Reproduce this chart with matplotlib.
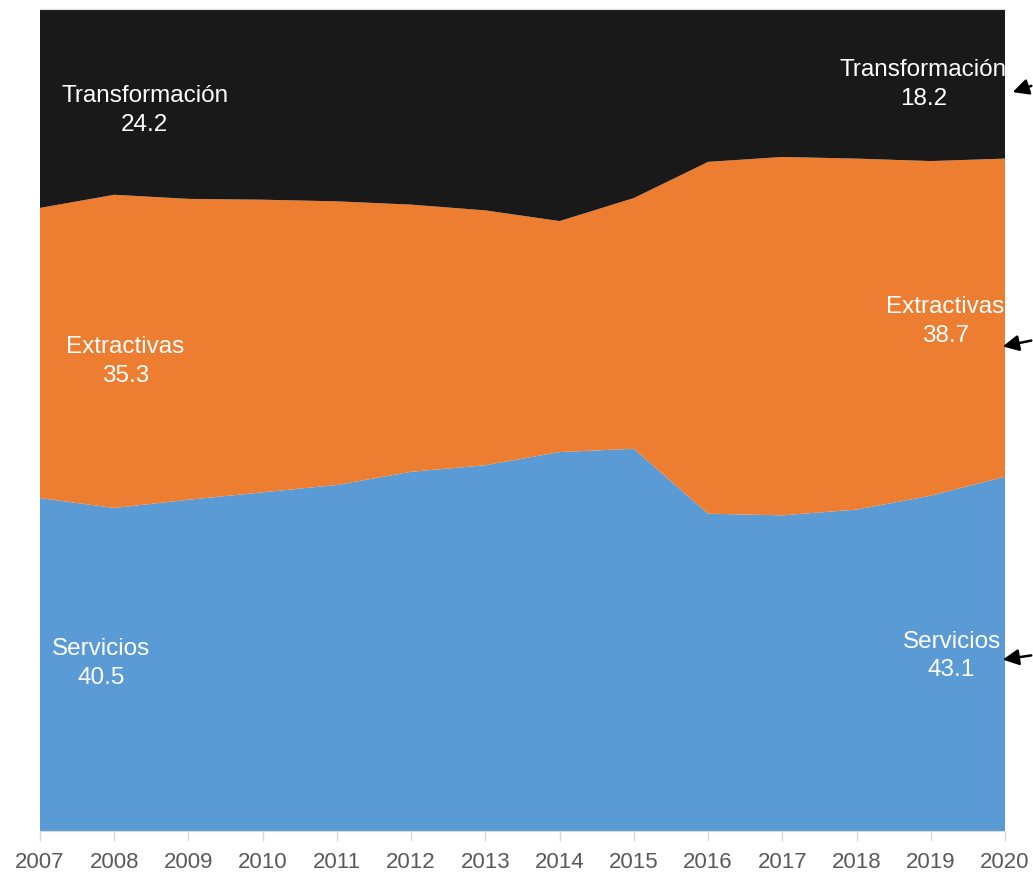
import matplotlib.pyplot as plt

years = list(range(2007, 2021))
servicios = [40.5, 39.3, 40.3, 41.2, 42.1, 43.7, 44.5, 46.1, 46.5, 38.6, 38.4, 39.1, 40.8, 43.1]
extractivas = [35.3, 38.1, 36.6, 35.6, 34.5, 32.5, 31.0, 28.1, 30.5, 42.8, 43.6, 42.7, 40.7, 38.7]
transformacion = [24.2, 22.6, 23.1, 23.2, 23.4, 23.8, 24.5, 25.8, 23.0, 18.6, 18.0, 18.2, 18.5, 18.2]

colors = ["#5B9BD5", "#ED7D31", "#191919"]

plt.rcParams["font.family"] = ["Liberation Sans", "DejaVu Sans"]

fig = plt.figure(figsize=(10.33, 8.72), dpi=100)
ax = fig.add_axes([40 / 1033, 41 / 872, 965 / 1033, 822 / 872])

ax.stackplot(years, servicios, extractivas, transformacion, colors=colors, linewidth=0)

ax.set_xlim(2007, 2020)
ax.set_ylim(0, 100)
ax.set_yticks([])
ax.set_xticks(years)
ax.tick_params(axis="x", length=7, width=1, color="#d9d9d9", labelsize=16, labelcolor="#595959", pad=8)
for side in ["left", "right"]:
    ax.spines[side].set_visible(False)
ax.spines["top"].set_color("#d9d9d9")
ax.spines["bottom"].set_color("#d9d9d9")

lbl = dict(color="white", fontsize=17.5, ha="center", va="center", linespacing=1.4)

# etiquetas del inicio
ax.text(2008.41, 87.7, "Transformación\n24.2", **lbl)
ax.text(2008.15, 57.1, "Extractivas\n35.3", **lbl)
ax.text(2007.82, 20.4, "Servicios\n40.5", **lbl)

# etiquetas del final
ax.text(2018.9, 90.8, "Transformación\n18.2", **lbl)
ax.text(2019.2, 62.0, "Extractivas\n38.7", **lbl)
ax.text(2019.28, 21.3, "Servicios\n43.1", **lbl)

arrows = [((1010, 93), (1034, 85)), ((1000, 347), (1034, 340)), ((1000, 660), (1034, 655))]
for tip, tail in arrows:
    ax.annotate("", xy=(tip[0] / 1033, 1 - tip[1] / 872), xytext=(tail[0] / 1033, 1 - tail[1] / 872),
                xycoords="figure fraction", textcoords="figure fraction",
                arrowprops=dict(arrowstyle="-|>", color="black", lw=1.8, mutation_scale=24),
                annotation_clip=False)

fig.savefig("out.png", dpi=100)
